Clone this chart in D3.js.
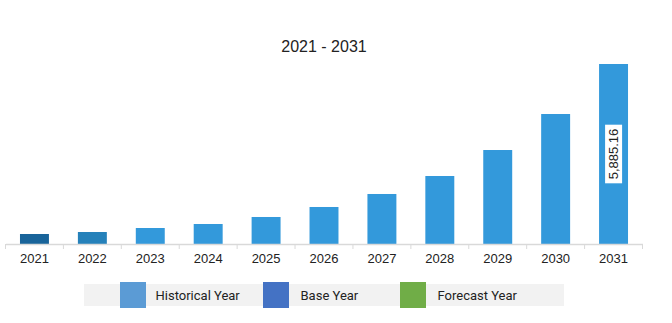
<!DOCTYPE html>
<html>
<head>
<meta charset="utf-8">
<script src="https://cdn.jsdelivr.net/npm/d3@7"></script>
<style>
  html, body { margin: 0; padding: 0; background: #fff; }
  svg { display: block; }
</style>
</head>
<body>
<svg id="chart" width="672" height="323"></svg>
<script>
// Market size by year
const years = ["2021","2022","2023","2024","2025","2026","2027","2028","2029","2030","2031"];
const values = [327, 392, 523, 654, 883, 1210, 1635, 2223, 3073, 4250, 5885.16];
const barColors = ["#19649a", "#2581ba", "#3399db", "#3399db", "#3399db", "#3399db", "#3399db", "#3399db", "#3399db", "#3399db", "#3399db"];
const labeledYears = ["2031"];

const legendNames = ["Historical Year", "Base Year", "Forecast Year"];
const legendColors = ["#5b9bd5", "#4472c4", "#70ad47"];

const title = "2021 - 2031";

const svg = d3.select("#chart");

const x = d3.scaleBand().domain(years).range([5.5, 642.5]).paddingInner(0.5).paddingOuter(0.25);
const y = d3.scaleLinear().domain([0, d3.max(values)]).range([244, 64]);

svg.append("text")
  .attr("x", 324).attr("y", 52)
  .attr("text-anchor", "middle")
  .attr("font-family", "Liberation Sans, Arial, sans-serif")
  .attr("font-size", 16)
  .attr("fill", "#222")
  .text(title);

// Bars
svg.append("g").selectAll("rect")
  .data(years)
  .join("rect")
  .attr("x", d => x(d))
  .attr("width", x.bandwidth())
  .attr("y", (d, i) => y(values[i]))
  .attr("height", (d, i) => y(0) - y(values[i]))
  .attr("fill", (d, i) => barColors[i]);

// X axis
const xAxis = svg.append("g")
  .attr("transform", "translate(0,244)")
  .call(d3.axisBottom(x).tickSize(0).tickPadding(10));
xAxis.select(".domain").attr("stroke", "#d9d9d9").attr("stroke-width", 1.5);
xAxis.selectAll("text")
  .attr("font-family", "Liberation Sans, Arial, sans-serif")
  .attr("font-size", 13)
  .attr("fill", "#222");

// Tick marks at band boundaries
const step = x.step();
const bounds = years.map(d => x(d) + x.bandwidth() / 2 - step / 2);
bounds.push(x(years[years.length - 1]) + x.bandwidth() / 2 + step / 2);
svg.append("g").selectAll("line")
  .data(bounds)
  .join("line")
  .attr("x1", d => d).attr("x2", d => d)
  .attr("y1", 244).attr("y2", 249)
  .attr("stroke", "#d9d9d9")
  .attr("stroke-width", 1);

// Value label on the last bar
years.forEach((d, i) => {
  if (!labeledYears.includes(d)) return;
  const cx = x(d) + x.bandwidth() / 2;
  const cy = (y(values[i]) + y(0)) / 2;
  const g = svg.append("g").attr("transform", `translate(${cx},${cy}) rotate(-90)`);
  const t = g.append("text")
    .attr("text-anchor", "middle")
    .attr("dy", "0.35em")
    .attr("font-family", "Liberation Sans, Arial, sans-serif")
    .attr("font-size", 13)
    .attr("fill", "#222")
    .text(d3.format(",.2f")(values[i]));
  const bb = t.node().getBBox();
  g.insert("rect", "text")
    .attr("x", bb.x - 4).attr("y", bb.y - 1)
    .attr("width", bb.width + 8).attr("height", bb.height + 2)
    .attr("fill", "#fff");
});

// Legend
const legend = svg.append("g");
legend.append("rect")
  .attr("x", 84).attr("y", 284).attr("width", 480).attr("height", 22)
  .attr("fill", "#f2f2f2");
const swatchX = [120, 263, 400];
const textX = [155.5, 300.5, 437.5];
legendNames.forEach((name, i) => {
  legend.append("rect")
    .attr("x", swatchX[i]).attr("y", 282).attr("width", 26).attr("height", 26)
    .attr("fill", legendColors[i]);
  legend.append("text")
    .attr("x", textX[i]).attr("y", 300)
    .attr("font-family", "Roboto, sans-serif")
    .attr("font-size", 13)
    .attr("fill", "#222")
    .text(name);
});
</script>
</body>
</html>
